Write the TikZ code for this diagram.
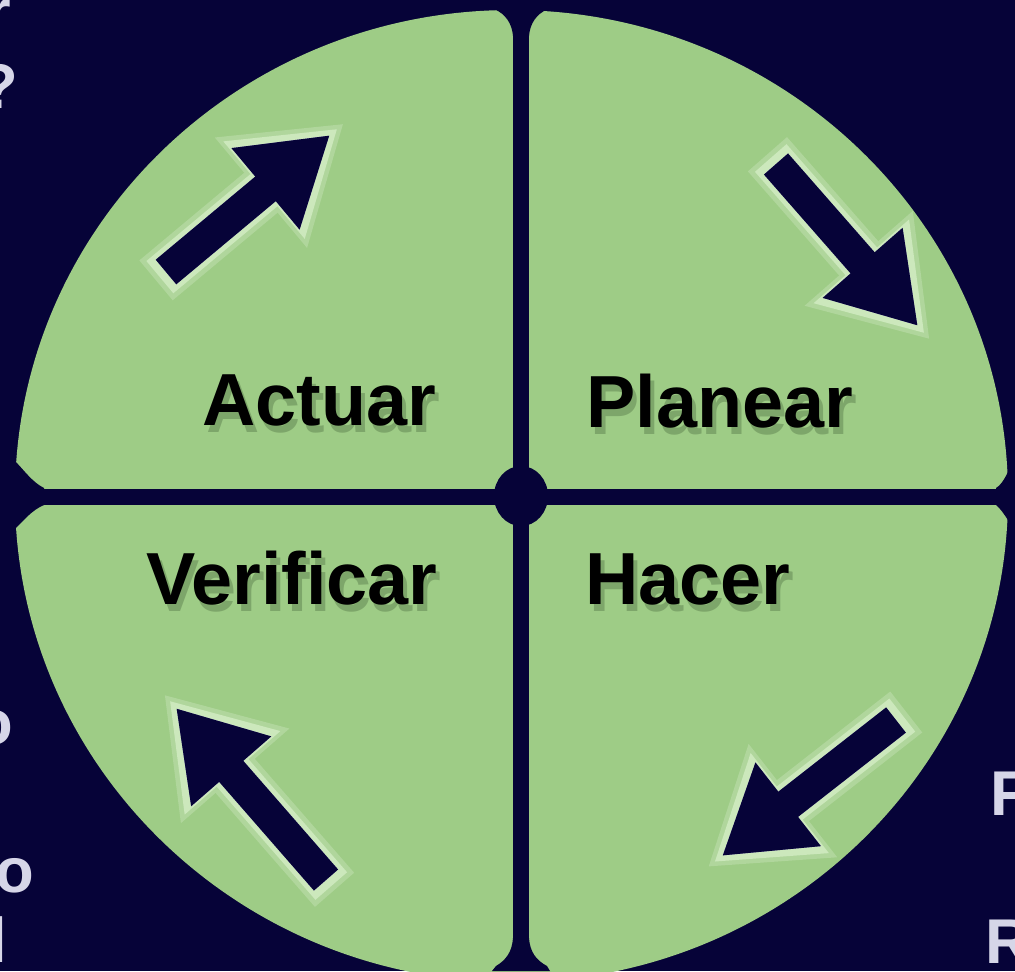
\documentclass[tikz,border=0pt]{standalone}
\usepackage{fontspec}
\setmainfont{Liberation Sans}
\usepackage{tikz}
\usetikzlibrary{arrows.meta}
\definecolor{cnavy}{RGB}{6,3,56}
\definecolor{cgreen}{RGB}{158,204,134}
\definecolor{cglowout}{RGB}{176,214,156}
\definecolor{cglow}{RGB}{204,232,188}
\definecolor{cbevel}{RGB}{150,148,196}
\definecolor{cshade}{RGB}{52,80,42}
\definecolor{cfrag}{RGB}{214,214,232}
\tikzset{
  phase/.style   ={font=\fontsize{21}{25}\selectfont\bfseries, text=black, inner sep=0pt},
  phaseshd/.style={phase, text=cshade, opacity=0.3},
  frag/.style    ={font=\fontsize{18}{22}\selectfont\bfseries, text=cfrag, inner sep=0pt},
  glowout/.style ={draw=cglowout, line width=5.2mm, shorten >=-1.8mm, shorten <=-1.3mm,
                   -{Triangle[length=10.8mm,width=13.6mm]}},
  glow/.style    ={draw=cglow, line width=4.2mm, shorten >=-1mm, shorten <=-0.8mm,
                   -{Triangle[length=9.6mm,width=12mm]}},
  bevel/.style   ={draw=cbevel, line width=3.2mm, xshift=-0.35mm, yshift=0.35mm,
                   -{Triangle[length=8.4mm,width=10mm]}},
  flecha/.style  ={draw=cnavy, line width=3.2mm, -{Triangle[length=8.4mm,width=10mm]}},
  cruz/.style    ={draw=cnavy, line width=1.6mm}
}
\begin{document}
\begin{tikzpicture}[x=0.1mm,y=-0.1mm]
\useasboundingbox (0,0) rectangle (1015,971);
\clip (0,0) rectangle (1015,971);
\fill[cnavy] (0,0) rectangle (1015,971);
\fill[cgreen] (511.5,496) ellipse [x radius=49.65mm, y radius=48.6mm];

\draw[cruz] (521,0) -- (521,971);
\draw[cruz] (0,496.5) -- (1015,496.5);
\fill[cnavy] (521,496) ellipse [x radius=2.7mm, y radius=3mm];
\fill[cnavy] (492,0) -- (550,0) -- (548,9) .. controls (536,14) and (530,24) .. (529,36)
  -- (513,36) .. controls (512,24) and (506,14) .. (494,9) -- cycle;
\fill[cnavy] (492,971) -- (550,971) -- (547,966) .. controls (536,960) and (530,952) .. (529,938)
  -- (513,938) .. controls (512,952) and (506,960) .. (496,966) -- cycle;
\fill[cnavy] (0,458) -- (14,460) .. controls (24,470) and (32,482) .. (44,488)
  -- (44,505) .. controls (32,510) and (24,520) .. (14,530) -- (0,532) -- cycle;
\fill[cnavy] (1015,468) -- (1008,472) .. controls (1004,480) and (1000,486) .. (996,488)
  -- (996,505) .. controls (1000,508) and (1004,514) .. (1008,520) -- (1015,524) -- cycle;

\coordinate (a1s) at (166,272);
\coordinate (a1e) at (330,135);
\coordinate (a2s) at (776,164);
\coordinate (a2e) at (918,326);
\coordinate (a3s) at (326,880);
\coordinate (a3e) at (176,708);
\coordinate (a4s) at (896,720);
\coordinate (a4e) at (722,856);
\foreach \i in {1,2,3,4} {
  \draw[glowout] (a\i s) -- (a\i e);
}
\foreach \i in {1,2,3,4} {
  \draw[glow] (a\i s) -- (a\i e);
}
\foreach \i in {1,2,3,4} {
  \draw[bevel] (a\i s) -- (a\i e);
  \draw[flecha] (a\i s) -- (a\i e);
}

\coordinate (pA) at (319,400);
\coordinate (pP) at (720,401);
\coordinate (pV) at (292,578);
\coordinate (pH) at (688,579);
\node[phaseshd] at ([shift={(4,7)}]pA) {Actuar};
\node[phaseshd] at ([shift={(4,7)}]pP) {Planear};
\node[phaseshd] at ([shift={(4,7)}]pV) {Verificar};
\node[phaseshd] at ([shift={(4,7)}]pH) {Hacer};
\node[phase] (actuar)    at (pA) {Actuar};
\node[phase] (planear)   at (pP) {Planear};
\node[phase] (verificar) at (pV) {Verificar};
\node[phase] (hacer)     at (pH) {Hacer};

\node[frag, anchor=base east] (f1) at (12,33) {r};
\node[frag, anchor=base east] (f2) at (19,108) {?};
\node[frag, anchor=base east] (f3) at (14,744) {o};
\node[frag, anchor=base east] (f4) at (35,892) {o};
\node[frag, anchor=base east] (f5) at (8,962) {l};
\node[frag, anchor=base west] (f6) at (990,815) {F};
\node[frag, anchor=base west] (f7) at (985,963) {R};
\end{tikzpicture}
\end{document}
